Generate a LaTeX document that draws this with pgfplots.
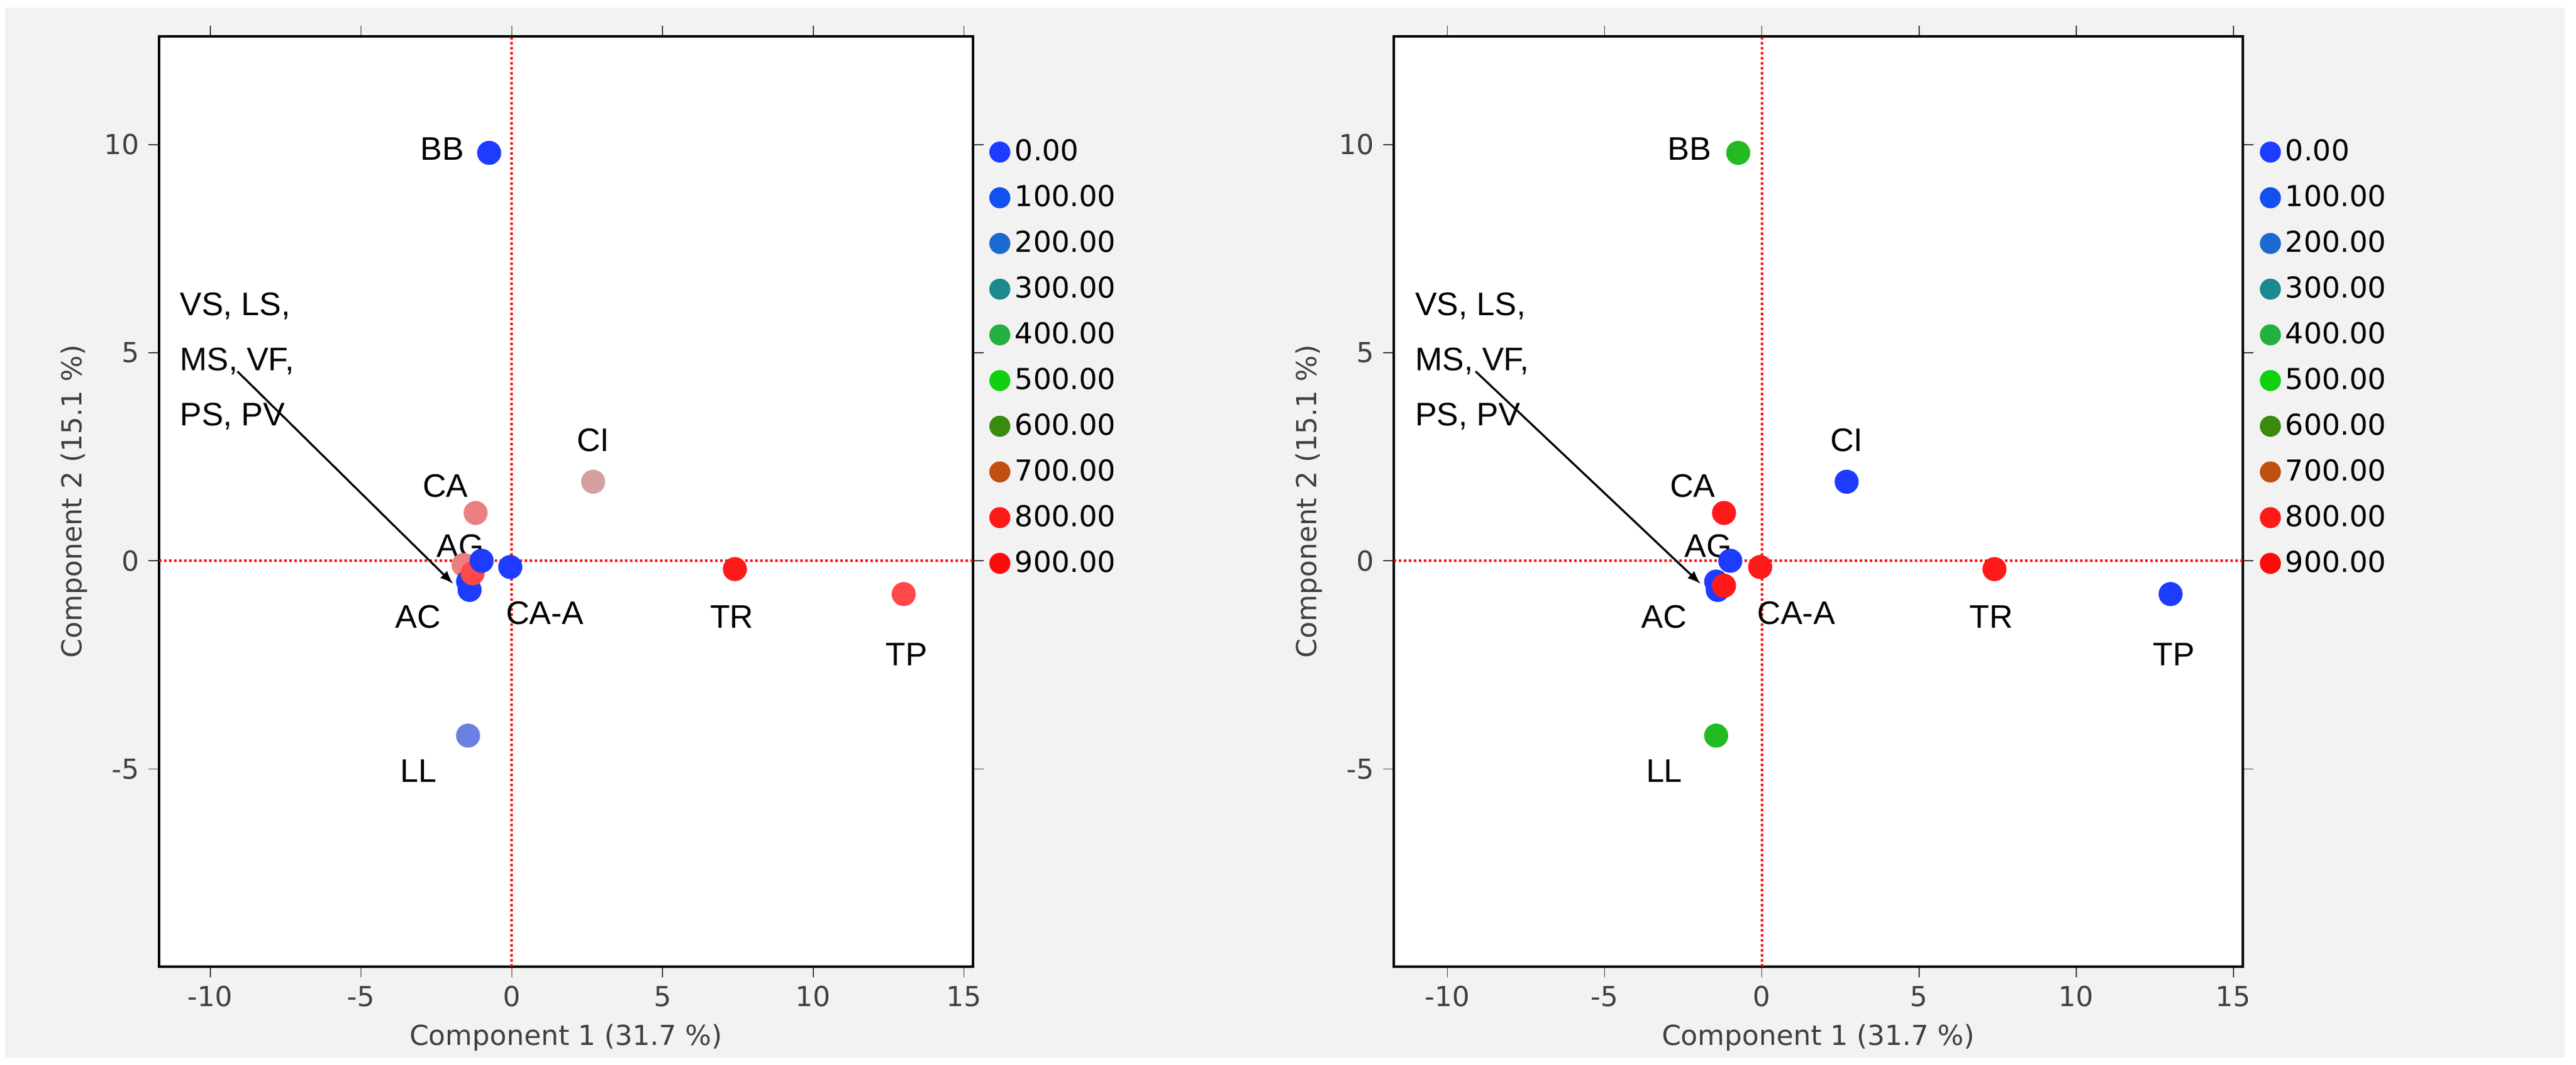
\documentclass[border=0pt]{standalone}
\usepackage{pgfplots}
\pgfplotsset{compat=1.18}
\usepackage{fontspec}
\setmainfont{Liberation Sans}
\newfontfamily\tickfont{DejaVu Sans}
\definecolor{bg}{HTML}{F2F2F2}
\definecolor{c0}{HTML}{1E3CFF}
\definecolor{c1}{HTML}{1450F0}
\definecolor{c2}{HTML}{1A6AD0}
\definecolor{c3}{HTML}{1A8A90}
\definecolor{c4}{HTML}{22B040}
\definecolor{c5}{HTML}{10D010}
\definecolor{c6}{HTML}{3A8A10}
\definecolor{c7}{HTML}{C05010}
\definecolor{c8}{HTML}{FF1A1A}
\definecolor{c9}{HTML}{FF0A0A}
\definecolor{pci}{HTML}{D4A0A0}
\definecolor{pca}{HTML}{EC8080}
\definecolor{ptp}{HTML}{FF4848}
\definecolor{pll}{HTML}{6C80E4}
\definecolor{pgr}{HTML}{22BB22}
\definecolor{lab}{HTML}{404040}
\tikzset{lbl/.style={font=\fontsize{13}{15}\selectfont}}
\pgfplotsset{
  pcastyle/.style={
    scale only axis, axis background/.style={fill=white},
    xmin=-11.7, xmax=15.3, ymin=-9.75, ymax=12.6,
    xtick={-10,-5,0,5,10,15}, ytick={-5,0,5,10},
    tick align=outside, tick style={lab, thin},
    ticklabel style={font=\tickfont\fontsize{11}{13}\selectfont, text=lab},
    /pgf/number format/assume math mode=true,
    xlabel={Component 1  (31.7 \%)}, ylabel={Component 2  (15.1 \%)},
    label style={font=\tickfont\fontsize{11}{13}\selectfont, text=lab},
    axis line style={black, line width=0.9pt},
    legend style={at={(1.02,0.895)}, anchor=north west, draw=none, fill=none,
      font=\tickfont\fontsize{11.5}{13}\selectfont, row sep=4.2pt, inner sep=0pt},
    legend cell align=left,
  },
  pt/.style={only marks, mark=*, mark size=4.6pt, color=#1, forget plot},
}
\newcommand{\legendentries}{%
  \addlegendimage{only marks, mark=*, mark size=4pt, c0}\addlegendentry{0.00}
  \addlegendimage{only marks, mark=*, mark size=4pt, c1}\addlegendentry{100.00}
  \addlegendimage{only marks, mark=*, mark size=4pt, c2}\addlegendentry{200.00}
  \addlegendimage{only marks, mark=*, mark size=4pt, c3}\addlegendentry{300.00}
  \addlegendimage{only marks, mark=*, mark size=4pt, c4}\addlegendentry{400.00}
  \addlegendimage{only marks, mark=*, mark size=4pt, c5}\addlegendentry{500.00}
  \addlegendimage{only marks, mark=*, mark size=4pt, c6}\addlegendentry{600.00}
  \addlegendimage{only marks, mark=*, mark size=4pt, c7}\addlegendentry{700.00}
  \addlegendimage{only marks, mark=*, mark size=4pt, c8}\addlegendentry{800.00}
  \addlegendimage{only marks, mark=*, mark size=4pt, c9}\addlegendentry{900.00}
}
\newcommand{\commonlabels}{%
  \draw[red, densely dotted, line width=1pt] (axis cs:0,-9.75) -- (axis cs:0,12.6);
  \draw[red, densely dotted, line width=1pt] (axis cs:-11.7,0) -- (axis cs:15.3,0);
  \node[lbl] at (axis cs:-2.3,9.9) {BB};
  \node[lbl] at (axis cs:2.7,2.9) {CI};
  \node[lbl] at (axis cs:-2.2,1.8) {CA};
  \node[lbl] at (axis cs:-1.7,0.35) {AG};
  \node[lbl] at (axis cs:-3.1,-1.35) {AC};
  \node[lbl] at (axis cs:1.1,-1.25) {CA-A};
  \node[lbl] at (axis cs:7.3,-1.35) {TR};
  \node[lbl] at (axis cs:13.1,-2.25) {TP};
  \node[lbl] at (axis cs:-3.1,-5.05) {LL};
  \node[anchor=west, align=left, font=\fontsize{13}{22}\selectfont] at (axis cs:-11.3,4.8) {VS, LS,\\MS, VF,\\PS, PV};
  \draw[-latex, thick] (axis cs:-9.1,4.55) -- (axis cs:-1.95,-0.55);
}
\begin{document}
\begin{tikzpicture}
\useasboundingbox (0,0) rectangle (1028.5pt,425pt);
\fill[bg] (2pt,3pt) rectangle (1024pt,422pt);
\begin{axis}[pcastyle, anchor=south west, at={(63.5pt,39.25pt)}, width=325pt, height=371.25pt]
\addplot[pt=pci] coordinates {(2.7,1.9)};
\addplot[pt=pca] coordinates {(-1.2,1.15)};
\addplot[pt=c0] coordinates {(-0.75,9.8)};
\addplot[pt=c8] coordinates {(7.4,-0.2)};
\addplot[pt=ptp] coordinates {(13.0,-0.8)};
\addplot[pt=pll] coordinates {(-1.45,-4.2)};
\addplot[pt=pca] coordinates {(-1.6,-0.1)};
\addplot[pt=c0] coordinates {(-1.45,-0.5)};
\addplot[pt=c0] coordinates {(-1.4,-0.7)};
\addplot[pt=ptp] coordinates {(-1.3,-0.3)};
\addplot[pt=c0] coordinates {(-1.0,0.0)};
\addplot[pt=c0] coordinates {(-0.05,-0.15)};
\commonlabels
\node[anchor=north west, align=left, font=\tickfont\bfseries\fontsize{11.5}{15}\selectfont] at (rel axis cs:1.02,0.985) {Haemonchus\\contortus};
\legendentries
\end{axis}
\begin{axis}[pcastyle, anchor=south west, at={(556.5pt,39.25pt)}, width=339pt, height=371.25pt]
\addplot[pt=c0] coordinates {(2.7,1.9)};
\addplot[pt=c8] coordinates {(-1.2,1.15)};
\addplot[pt=pgr] coordinates {(-0.75,9.8)};
\addplot[pt=c8] coordinates {(7.4,-0.2)};
\addplot[pt=c0] coordinates {(13.0,-0.8)};
\addplot[pt=pgr] coordinates {(-1.45,-4.2)};
\addplot[pt=c0] coordinates {(-1.45,-0.5)};
\addplot[pt=c0] coordinates {(-1.4,-0.7)};
\addplot[pt=c0] coordinates {(-1.0,0.0)};
\addplot[pt=c8] coordinates {(-1.2,-0.6)};
\addplot[pt=c8] coordinates {(-0.05,-0.15)};
\commonlabels
\node[anchor=north west, align=left, font=\tickfont\bfseries\fontsize{11.5}{15}\selectfont] at (rel axis cs:1.02,0.985) {Trichostrongylus\\colubriformis};
\legendentries
\end{axis}
\end{tikzpicture}
\end{document}
